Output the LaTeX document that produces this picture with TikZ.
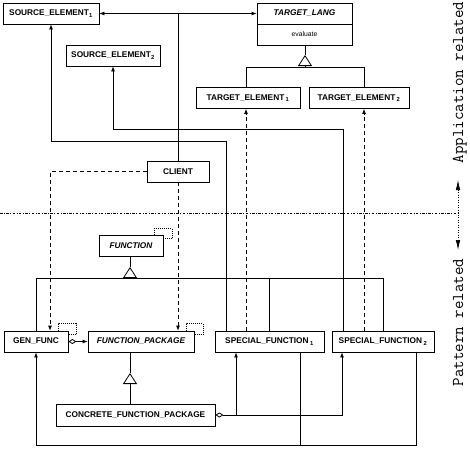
\documentclass[tikz,border=0pt]{standalone}
\usepackage{fontspec}
\usetikzlibrary{arrows.meta,calc}
\newfontfamily\boxfont{Liberation Sans}
\begin{document}
\begin{tikzpicture}[x=1pt,y=-1pt,
 cls/.style={draw, line width=0.8pt, inner sep=0pt, minimum height=21pt, font=\boxfont\bfseries\fontsize{8.3}{10}\selectfont},
 abscls/.style={cls, font=\boxfont\bfseries\itshape\fontsize{8.3}{10}\selectfont},
 conn/.style={line width=0.8pt},
 assoc/.style={conn, -{Latex[length=5pt,width=4pt]}},
 dep/.style={assoc, dash pattern=on 4pt off 3pt},
 inhtip/.style={conn, -{Triangle[open,length=11pt,width=14pt]}},
 agg/.style={conn, {Diamond[open,length=8pt,width=5pt]}-{Latex[length=5pt,width=4pt]}},
 selfl/.style={line width=0.7pt, dash pattern=on 1pt off 1pt},
 sepline/.style={line width=0.7pt, dash pattern=on 2.5pt off 1.5pt on 0.8pt off 1.5pt},
 sidelabel/.style={font=\ttfamily\fontsize{16.5}{18}\selectfont, rotate=90, anchor=base, inner sep=0pt}
]
\useasboundingbox (0,0) rectangle (470,448);

% classes
\node[cls, minimum width=96pt] (se1) at (51,13.5) {SOURCE\_ELEMENT\textsubscript{1}};
\node[cls, minimum width=94pt] (se2) at (113,55.5) {SOURCE\_ELEMENT\textsubscript{2}};
\node[draw, line width=0.8pt, inner sep=0pt, minimum width=95pt, minimum height=42pt] (tl) at (304.5,24) {};
\draw[conn] (tl.west) -- (tl.east);
\node[inner sep=0pt, font=\boxfont\bfseries\itshape\fontsize{8.3}{10}\selectfont] (tlname) at (304.5,13.5) {TARGET\_LANG};
\node[inner sep=0pt, font=\boxfont\fontsize{6.8}{8}\selectfont] (tlop) at (304.5,34.5) {evaluate};
\node[cls, minimum width=104pt] (te1) at (248,98) {TARGET\_ELEMENT\,\textsubscript{1}};
\node[cls, minimum width=100pt] (te2) at (359,98) {TARGET\_ELEMENT\,\textsubscript{2}};
\node[cls, minimum width=62pt] (client) at (178,171.5) {CLIENT};
\node[abscls, minimum width=64pt] (fun) at (131,245.5) {FUNCTION};
\node[cls, minimum width=64pt] (gen) at (36,341.5) {GEN\_FUNC};
\node[abscls, minimum width=106pt] (fp) at (141,341.5) {FUNCTION\_PACKAGE};
\node[cls, minimum width=109pt] (sf1) at (269.5,341.5) {SPECIAL\_FUNCTION\,\textsubscript{1}};
\node[cls, minimum width=102pt] (sf2) at (383,341.5) {SPECIAL\_FUNCTION\,\textsubscript{2}};
\node[cls, minimum width=159pt, minimum height=22pt] (cfp) at (135.5,415) {CONCRETE\_FUNCTION\_PACKAGE};

% helper coordinates
\coordinate (j1) at (226,141);
\coordinate (j2) at (343,129);
\coordinate (tb1) at (246,67);
\coordinate (tb2) at (364,67);
\coordinate (tapex) at (305,55);
\coordinate (fbar) at (130,278);
\coordinate (fapex) at (130,267);
\coordinate (pbar) at (130,384);
\coordinate (papex) at (130,373);
\coordinate (ca) at (236,415);
\coordinate (cb) at (342,415);
\coordinate (b1) at (300,445);
\coordinate (b2) at (416,445);
\coordinate (cl) at (50,171.5);
\coordinate (sepl) at (0,213);
\coordinate (aup) at (458,180);
\coordinate (adn) at (458,250);

% client associations
\draw[assoc] (client.north) -- (client.north |- se1.east) -- (se1.east);
\draw[assoc] (client.north |- se1.east) -- (tl.west |- se1.east);
\draw[dep] (client.west) -- (cl) -- (gen.north -| cl);
\draw[dep] (client.south) -- (fp.north -| client.south);

% special functions to sources
\draw[assoc] (sf1.north -| j1) -- (j1) -| (se1.south);
\draw[assoc] (sf2.north -| j2) -- (j2) -| (se2.south);

% target inheritance
\draw[conn] (te1.north -| tb1) -- (tb1) -- (tb2) -- (te2.north -| tb2);
\draw[inhtip] (tapex |- tb1) -- (tapex);
\draw[conn] (tapex) -- (tl.south -| tapex);
\draw[dep] (sf1.north -| tb1) -- (te1.south -| tb1);
\draw[dep] (sf2.north -| tb2) -- (te2.south -| tb2);

% function inheritance
\draw[conn] (gen.north) |- (fbar) -| (sf2.north);
\draw[conn] (sf1.north |- fbar) -- (sf1.north);
\draw[inhtip] (fbar) -- (fapex);
\draw[conn] (fapex) -- (fun.south -| fapex);

% package
\draw[agg] (gen.east) -- (fp.west);
\draw[inhtip] (pbar) -- (papex);
\draw[conn] (papex) -- (fp.south -| papex);
\draw[conn] (pbar) -- (cfp.north -| pbar);
\draw[agg] (cfp.east) -- (cb) -- (sf2.south -| cb);
\draw[assoc] (ca) -- (sf1.south -| ca);
\draw[assoc] (sf2.south -| b2) -- (b2) -| (gen.south);
\draw[conn] (sf1.south -| b1) -- (b1);

% self references
\draw[selfl] ([xshift=-9pt]fun.north east) -- ++(0,-6) -- ++(18,0) -- ++(0,10) -- ++(-9,0);
\draw[selfl] ([xshift=-10pt]gen.north east) -- ++(0,-7) -- ++(18,0) -- ++(0,11) -- ++(-8,0);
\draw[selfl] ([xshift=-8pt]fp.north east) -- ++(0,-7) -- ++(17,0) -- ++(0,11) -- ++(-9,0);

% separator and side labels
\draw[sepline] (sepl) -- (sepl -| aup);
\draw[line width=0.7pt, dash pattern=on 1pt off 1.5pt, {Latex[length=10pt,width=4.5pt]}-{Latex[length=10pt,width=4.5pt]}] (aup) -- (adn);
\node[sidelabel] (lapp) at (463,82.5) {Application related};
\node[sidelabel] (lpat) at (463,322.5) {Pattern related};
\end{tikzpicture}
\end{document}
